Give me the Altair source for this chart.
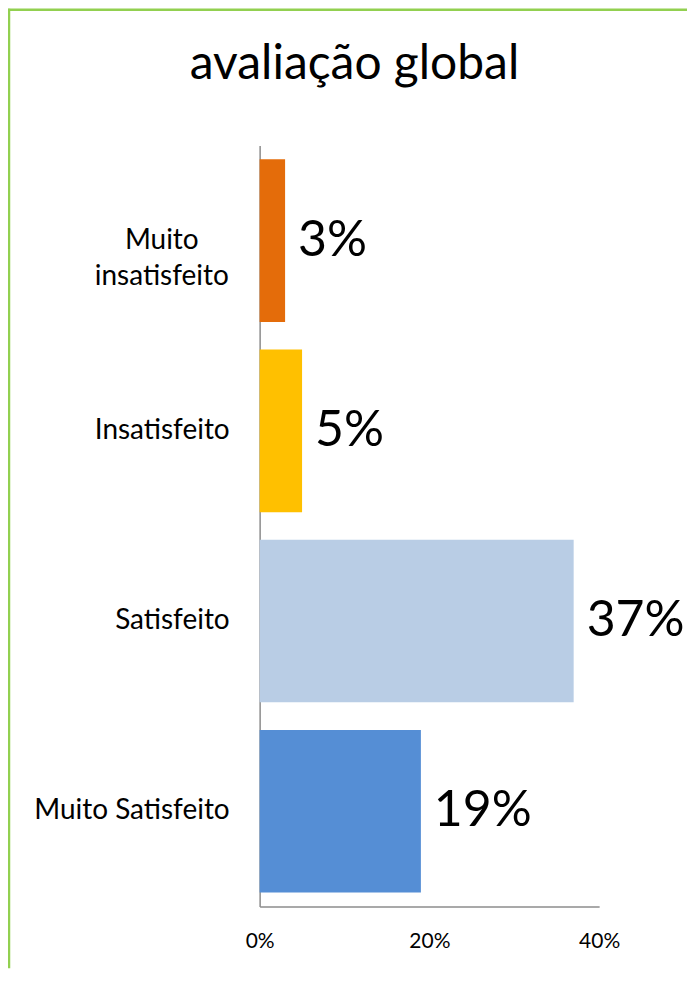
import altair as alt
import pandas as pd

categories = ["Muito insatisfeito", "Insatisfeito", "Satisfeito", "Muito Satisfeito"]
label_texts = ["Muito\ninsatisfeito", "Insatisfeito", "Satisfeito", "Muito Satisfeito"]
values = [0.03, 0.05, 0.37, 0.19]
colors = ["#E46C0A", "#FFC000", "#B9CDE5", "#558ED5"]
x_ticks = [0, 0.2, 0.4]
title_text = "avaliação global"

FONT = "Lato"
W, H = 340, 762

df = pd.DataFrame({"cat": categories, "label": label_texts, "value": values})

y_enc = alt.Y(
    "cat:N",
    sort=categories,
    scale=alt.Scale(paddingInner=0.145, paddingOuter=0.0725),
    axis=alt.Axis(labels=False, ticks=False, title=None, domainColor="#8C8C8C", domainWidth=1.5),
)

bars = alt.Chart(df).mark_bar().encode(
    y=y_enc,
    x=alt.X(
        "value:Q",
        scale=alt.Scale(domain=[0, 0.4], nice=False),
        axis=alt.Axis(
            values=x_ticks, format=".0%", grid=False, ticks=False, title=None,
            labelFlush=False, labelPadding=24, labelFontSize=21, labelFont=FONT,
            labelColor="#000000", domainColor="#8C8C8C", domainWidth=1.5,
        ),
    ),
    color=alt.Color("cat:N", scale=alt.Scale(domain=categories, range=colors), legend=None),
)

value_labels = alt.Chart(df).mark_text(
    align="left", baseline="middle", dx=13, fontSize=50, font=FONT, color="#000000"
).encode(
    y=alt.Y("cat:N", sort=categories),
    x=alt.X("value:Q"),
    text=alt.Text("value:Q", format=".0%"),
)

cat_single = alt.Chart(df).transform_filter(
    "indexof(datum.label, '\\n') < 0"
).mark_text(
    align="right", baseline="middle", fontSize=28, font=FONT, color="#000000"
).encode(
    y=alt.Y("cat:N", sort=categories),
    x=alt.value(-30),
    text="label:N",
)

cat_multi = alt.Chart(df).transform_filter(
    "indexof(datum.label, '\\n') >= 0"
).mark_text(
    align="center", baseline="middle", fontSize=28, font=FONT, color="#000000",
    lineBreak="\n", lineHeight=36,
).encode(
    y=alt.Y("cat:N", sort=categories),
    x=alt.value(-98),
    text="label:N",
)

title_mark = alt.Chart(alt.Data(values=[{"t": title_text}])).mark_text(
    align="center", baseline="alphabetic", fontSize=48, font=FONT, color="#000000"
).encode(
    x=alt.value(95), y=alt.value(-67), text="t:N"
)

frame_left = alt.Chart(alt.Data(values=[{}])).mark_rule(color="#92D050", strokeWidth=2.5).encode(
    x=alt.value(-251), y=alt.value(-137), y2=alt.value(H + 62)
)
frame_top = alt.Chart(alt.Data(values=[{}])).mark_rule(color="#92D050", strokeWidth=2.5).encode(
    y=alt.value(-136), x=alt.value(-252), x2=alt.value(W + 88)
)

chart = alt.layer(
    frame_left, frame_top, title_mark, bars, value_labels, cat_single, cat_multi
).properties(
    width=W,
    height=H,
    autosize=alt.AutoSizeParams(type="none"),
    padding={"left": 252, "top": 137, "right": 88, "bottom": 62},
    background="#FFFFFF",
).configure_view(stroke=None)

chart.save("out.html", embed_options={"renderer": "svg", "actions": False})
